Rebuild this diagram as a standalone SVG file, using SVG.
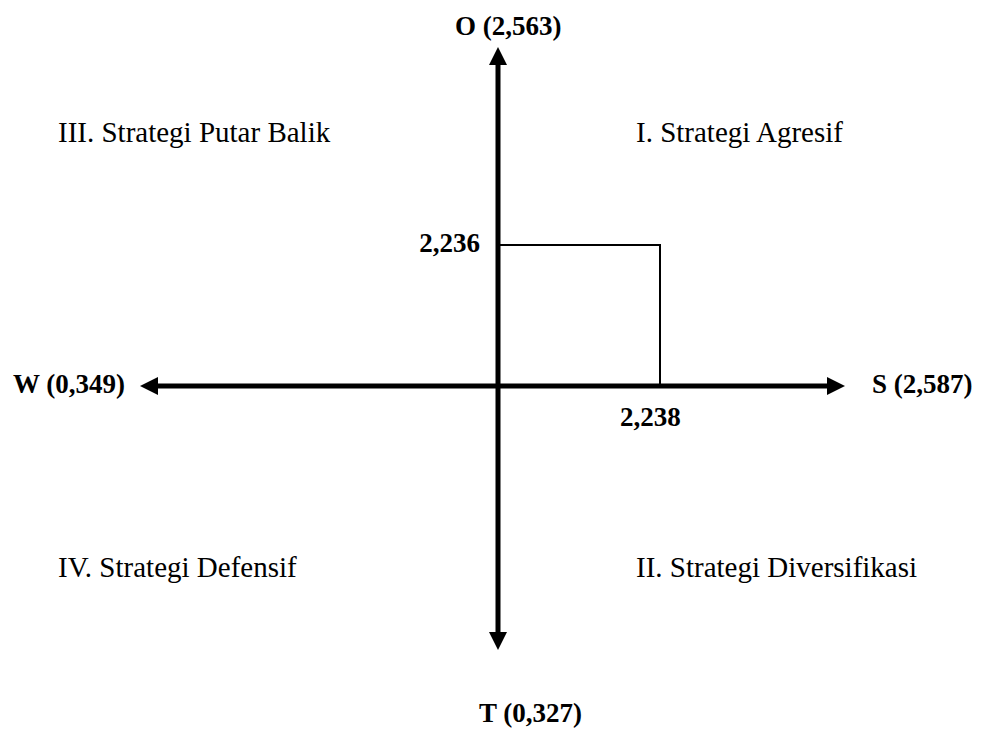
<svg xmlns="http://www.w3.org/2000/svg" width="981" height="731" viewBox="0 0 981 731">
<style>
text{font-family:"Liberation Serif","Times New Roman",serif;font-size:29px;fill:#000}
.b{font-weight:bold;font-size:27px}
.axis{stroke:#000;stroke-width:5;fill:none}
.thin{stroke:#000;stroke-width:2;fill:none}
</style>
<defs>
<marker id="ah" viewBox="0 0 18 18" refX="0" refY="9" markerWidth="18" markerHeight="18" markerUnits="userSpaceOnUse" orient="auto">
<path d="M0,0 L18,9 L0,18 Z" fill="#000"/>
</marker>
</defs>
<rect width="981" height="731" fill="#fff"/>
<g id="connectors">
<line class="axis" x1="498" y1="386" x2="498" y2="65" marker-end="url(#ah)"/>
<line class="axis" x1="498" y1="386" x2="498" y2="632" marker-end="url(#ah)"/>
<line class="axis" x1="498" y1="386" x2="158" y2="386" marker-end="url(#ah)"/>
<line class="axis" x1="498" y1="386" x2="827" y2="386" marker-end="url(#ah)"/>
<polyline class="thin" points="498,245 660,245 660,386"/>
</g>
<g id="label-O"><text class="b" x="455" y="35">O (2,563)</text></g>
<g id="label-T"><text class="b" x="479" y="722">T (0,327)</text></g>
<g id="label-W"><text class="b" x="13" y="393">W (0,349)</text></g>
<g id="label-S"><text class="b" x="872" y="393">S (2,587)</text></g>
<g id="label-2236"><text class="b" x="480" y="252" text-anchor="end">2,236</text></g>
<g id="label-2238"><text class="b" x="620" y="426">2,238</text></g>
<g id="q3"><text x="58" y="142">III. Strategi Putar Balik</text></g>
<g id="q1"><text x="636" y="142">I. Strategi Agresif</text></g>
<g id="q4"><text x="58" y="577">IV. Strategi Defensif</text></g>
<g id="q2"><text x="636" y="577">II. Strategi Diversifikasi</text></g>
</svg>
